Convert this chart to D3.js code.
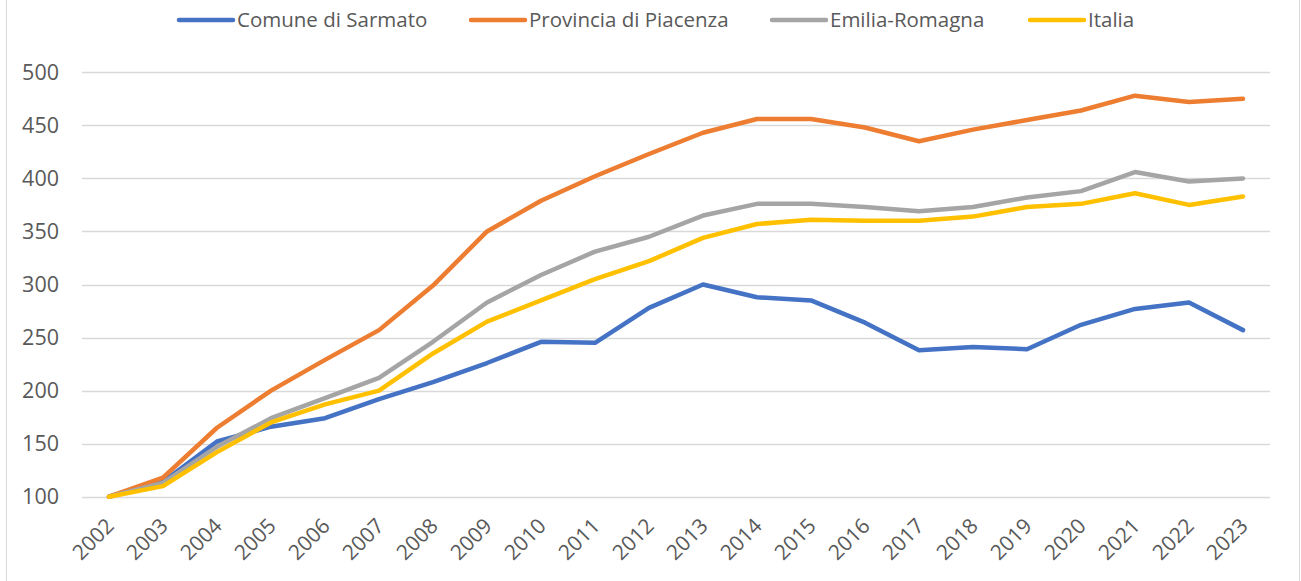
<!DOCTYPE html>
<html lang="en">
<head>
    <meta charset="UTF-8">
    <title>Indice</title>
    <script src="https://d3js.org/d3.v7.min.js"></script>
    <style>
        body { margin: 0; background: #fff; }
        text { font-family: "Open Sans", "Noto Sans", sans-serif; fill: #595959; }
    </style>
</head>
<body>
    <div id="chart"></div>
    <script>
        const years = ["2002","2003","2004","2005","2006","2007","2008","2009","2010","2011","2012",
                       "2013","2014","2015","2016","2017","2018","2019","2020","2021","2022","2023"];
        const seriesNames = ["Comune di Sarmato", "Provincia di Piacenza", "Emilia-Romagna", "Italia"];
        const seriesColors = ["#4472C4", "#ED7D31", "#A5A5A5", "#FFC000"];
        const sarmato = [100,114,152,166,174,192,208,226,246,245,278,300,288,285,264,238,241,239,262,277,283,257];
        const piacenza = [100,118,165,200,229,257,299,350,379,402,423,443,456,456,448,435,446,455,464,478,472,475];
        const emilia = [100,113,147,174,193,212,246,283,309,331,345,365,376,376,373,369,373,382,388,406,397,400];
        const italia = [100,110,142,170,187,200,235,265,285,305,322,344,357,361,360,360,364,373,376,386,375,383];
        const yTicks = [100,150,200,250,300,350,400,450,500];

        const seriesValues = [sarmato, piacenza, emilia, italia];

        const W = 1301, H = 581;
        const plotLeft = 82, plotRight = 1270, plotTop = 72.3, plotBottom = 496.7;

        const svg = d3.select("#chart").append("svg")
            .attr("width", W).attr("height", H);

        // chart border
        svg.append("rect")
            .attr("x", 6.5).attr("y", -2)
            .attr("width", 1293).attr("height", H + 10)
            .attr("fill", "none").attr("stroke", "#D9D9D9").attr("stroke-width", 1);

        const x = d3.scaleBand().domain(years).range([plotLeft, plotRight]);
        const y = d3.scaleLinear().domain([100, 500]).range([plotBottom, plotTop]);

        // gridlines
        svg.append("g").selectAll("line")
            .data(yTicks).enter().append("line")
            .attr("x1", plotLeft).attr("x2", plotRight)
            .attr("y1", d => Math.round(y(d)) + 0.5).attr("y2", d => Math.round(y(d)) + 0.5)
            .attr("stroke", "#D9D9D9").attr("stroke-width", 1.3);

        // y labels
        svg.append("g").selectAll("text")
            .data(yTicks).enter().append("text")
            .attr("x", 59).attr("y", d => y(d))
            .attr("dy", "0.35em")
            .attr("text-anchor", "end")
            .style("font-size", "21.5px")
            .text(d => d);

        // x labels
        svg.append("g").selectAll("text")
            .data(years).enter().append("text")
            .attr("transform", d => "translate(" + (x(d) + x.bandwidth() / 2 + 1) + ",522) rotate(-45)")
            .attr("text-anchor", "end")
            .attr("dy", "0.35em")
            .style("font-size", "21px")
            .text(d => d);

        const line = d3.line()
            .x((d, i) => x(years[i]) + x.bandwidth() / 2)
            .y(d => y(d));

        svg.append("g").selectAll("path")
            .data(seriesValues).enter().append("path")
            .attr("d", d => line(d))
            .attr("fill", "none")
            .attr("stroke", (d, i) => seriesColors[i])
            .attr("stroke-width", 4.5)
            .attr("stroke-linecap", "round")
            .attr("stroke-linejoin", "round");

        // legend
        const legendX = [179, 471, 772, 1030];
        const legend = svg.append("g").selectAll("g")
            .data(seriesNames).enter().append("g")
            .attr("transform", (d, i) => "translate(" + legendX[i] + ",20)");
        legend.append("line")
            .attr("x1", 0).attr("x2", 54).attr("y1", 0).attr("y2", 0)
            .attr("stroke", (d, i) => seriesColors[i])
            .attr("stroke-width", 4.5)
            .attr("stroke-linecap", "round");
        legend.append("text")
            .attr("x", 58).attr("dy", "0.35em")
            .style("font-size", "20.5px")
            .text(d => d);
    </script>
</body>
</html>
